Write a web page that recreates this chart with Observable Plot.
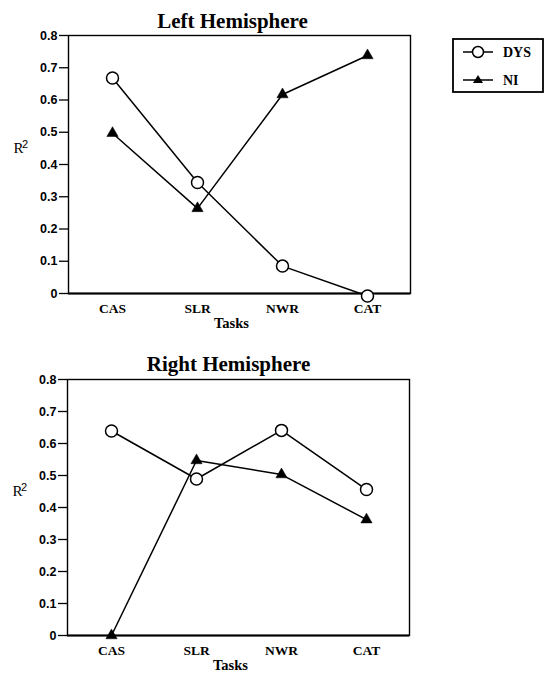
<!DOCTYPE html>
<html><head><meta charset="utf-8">
<script src="https://cdn.jsdelivr.net/npm/d3@7"></script>
<script src="https://cdn.jsdelivr.net/npm/@observablehq/plot@0.6"></script>
<style>
body{margin:0;background:#fff;}
#wrap{position:relative;width:546px;height:675px;background:#fff;overflow:hidden;}
.panel{position:absolute;left:0;}
</style></head><body><div id="wrap"></div>
<script>
const tasks = ["CAS", "SLR", "NWR", "CAT"];
const seriesNames = ["DYS", "NI"];
const panelTitles = ["Left Hemisphere", "Right Hemisphere"];
const leftDYS = [0.668, 0.344, 0.085, -0.008];
const leftNI = [0.497, 0.264, 0.617, 0.738];
const rightDYS = [0.639, 0.489, 0.641, 0.456];
const rightNI = [0.0, 0.547, 0.503, 0.362];
const yTicks = [0, 0.1, 0.2, 0.3, 0.4, 0.5, 0.6, 0.7, 0.8];
const xLabel = "Tasks";
const yLabelBase = "R";
const yLabelSup = "2";

function makePanel(title, dys, ni, m) {
  const rows = [
    ...tasks.map((t, i) => ({task: t, value: dys[i], series: seriesNames[0]})),
    ...tasks.map((t, i) => ({task: t, value: ni[i], series: seriesNames[1]}))
  ];
  return Plot.plot({
    width: 546, height: 335,
    marginLeft: m.left, marginRight: m.right, marginTop: m.top, marginBottom: m.bottom,
    style: {background: "white", overflow: "visible"},
    x: {type: "point", domain: tasks, padding: 0.5, axis: null},
    y: {domain: [0, 0.8], axis: null},
    marks: [
      Plot.frame({stroke: "black", strokeWidth: 1.4}),
      Plot.ruleY([0], {stroke: "black", strokeWidth: 2}),
      Plot.axisY(yTicks, {tickSize: 9, tickPadding: 2, strokeWidth: 1.3,
        tickFormat: d => d === 0 ? "0" : d.toFixed(1),
        fontFamily: "Liberation Sans", fontWeight: "bold", fontSize: 12.5, label: null}),
      Plot.axisX(tasks, {tickSize: 0, tickPadding: 10,
        fontFamily: "Liberation Serif", fontWeight: "bold", fontSize: 13.5, label: null}),
      Plot.line(rows, {x: "task", y: "value", z: "series", stroke: "black", strokeWidth: 1.5}),
      Plot.dot(rows.filter(d => d.series === "DYS"), {x: "task", y: "value", r: 6, fill: "white", stroke: "black", strokeWidth: 1.5}),
      Plot.dot(rows.filter(d => d.series === "NI"), {x: "task", y: "value", r: 4.2, symbol: "triangle", fill: "black", stroke: "black", strokeWidth: 0.5}),
      Plot.text([title], {text: d => d, frameAnchor: "top", dx: m.titleDx, dy: m.titleDy, lineAnchor: "bottom",
        fontFamily: "Liberation Serif", fontWeight: "bold", fontSize: 21, fill: "black"}),
      Plot.text([yLabelBase], {text: d => d, frameAnchor: "left", dx: -55, dy: -16, textAnchor: "start",
        fontFamily: "Liberation Serif", fontSize: 15, fill: "black"}),
      Plot.text([yLabelSup], {text: d => d, frameAnchor: "left", dx: -46.5, dy: -20.5, textAnchor: "start",
        fontFamily: "Liberation Sans", fontSize: 11, fill: "black"}),
      Plot.text([xLabel], {text: d => d, frameAnchor: "bottom", dx: -8, dy: 34, lineAnchor: "bottom",
        fontFamily: "Liberation Serif", fontWeight: "bold", fontSize: 14.5, fill: "black"})
    ]
  });
}

const wrap = document.getElementById("wrap");
const p1 = makePanel(panelTitles[0], leftDYS, leftNI, {left: 68, right: 136, top: 35, bottom: 42, titleDx: -7, titleDy: -8});
p1.classList.add("panel"); p1.style.top = "0px";
wrap.appendChild(p1);
const p2 = makePanel(panelTitles[1], rightDYS, rightNI, {left: 67, right: 137, top: 39, bottom: 40, titleDx: -10, titleDy: -9});
p2.classList.add("panel"); p2.style.top = "340px";
wrap.appendChild(p2);

// legend
const ns = "http://www.w3.org/2000/svg";
const lg = document.createElementNS(ns, "svg");
lg.setAttribute("width", 93); lg.setAttribute("height", 56);
lg.style.position = "absolute"; lg.style.left = "452px"; lg.style.top = "38px";
const box = document.createElementNS(ns, "rect");
box.setAttribute("x", 1); box.setAttribute("y", 1); box.setAttribute("width", 90); box.setAttribute("height", 53);
box.setAttribute("fill", "white"); box.setAttribute("stroke", "black"); box.setAttribute("stroke-width", 1.8);
lg.appendChild(box);
seriesNames.forEach((name, i) => {
  const cy = 14 + i * 28;
  const ln = document.createElementNS(ns, "line");
  ln.setAttribute("x1", 11); ln.setAttribute("x2", 41); ln.setAttribute("y1", cy); ln.setAttribute("y2", cy);
  ln.setAttribute("stroke", "black"); ln.setAttribute("stroke-width", 1.5);
  lg.appendChild(ln);
  if (i === 0) {
    const c = document.createElementNS(ns, "circle");
    c.setAttribute("cx", 26); c.setAttribute("cy", cy); c.setAttribute("r", 5.5);
    c.setAttribute("fill", "white"); c.setAttribute("stroke", "black"); c.setAttribute("stroke-width", 1.5);
    lg.appendChild(c);
  } else {
    const p = document.createElementNS(ns, "path");
    p.setAttribute("d", `M26,${cy - 5}L31,${cy + 3}L21,${cy + 3}Z`);
    p.setAttribute("fill", "black");
    lg.appendChild(p);
  }
  const t = document.createElementNS(ns, "text");
  t.setAttribute("x", 51); t.setAttribute("y", cy + 5);
  t.setAttribute("font-family", "Liberation Serif"); t.setAttribute("font-weight", "bold"); t.setAttribute("font-size", 14);
  t.textContent = name;
  lg.appendChild(t);
});
wrap.appendChild(lg);
</script></body></html>
